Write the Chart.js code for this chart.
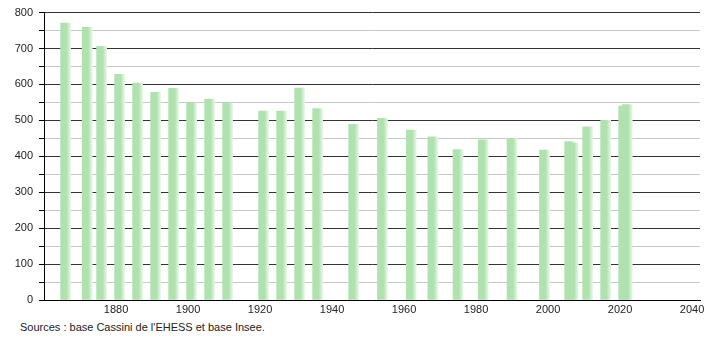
<!DOCTYPE html>
<html>
<head>
<meta charset="utf-8">
<script src="https://cdn.jsdelivr.net/npm/chart.js@4"></script>
<style>
  body { margin: 0; background: #fff; }
  #wrap { position: relative; width: 710px; height: 340px; }
  #box { position: absolute; left: 0; top: 0; width: 710px; height: 318px; }
  #src { position: absolute; left: 20px; top: 321px; font: 11px "Liberation Sans", Arial, sans-serif; color: #222; }
</style>
</head>
<body>
<div id="wrap">
  <div id="box"><canvas id="popChart"></canvas></div>
  <div id="src">Sources : base Cassini de l'EHESS et base Insee.</div>
</div>
<script>
const years = [1866, 1872, 1876, 1881, 1886, 1891, 1896, 1901, 1906, 1911, 1921, 1926, 1931, 1936,
  1946, 1954, 1962, 1968, 1975, 1982, 1990, 1999, 2006, 2007, 2011, 2016, 2021, 2022];
const population = [771, 759, 706, 628, 604, 578, 589, 549, 559, 549, 526, 526, 590, 533,
  489, 506, 473, 454, 419, 446, 450, 417, 441, 437, 482, 500, 540, 544];
const yTicks = [0, 100, 200, 300, 400, 500, 600, 700, 800];
const xTicks = [1880, 1900, 1920, 1940, 1960, 1980, 2000, 2020, 2040];

const green = 'rgb(176,226,176)';

function barFill(ctx) {
    const chart = ctx.chart;
    const xs = chart.scales.x;
    if (!xs || ctx.type !== 'data') return green;
    const cx = xs.getPixelForValue(years[ctx.dataIndex]);
    if (!isFinite(cx)) return green;
    const g = chart.ctx.createLinearGradient(cx - 5, 0, cx + 5, 0);
    g.addColorStop(0, green);
    g.addColorStop(0.6, green);
    g.addColorStop(1, 'rgb(232,246,232)');
    return g;
}

new Chart(document.getElementById('popChart'), {
    type: 'bar',
    data: {
        datasets: [{
            data: years.map((y, i) => ({ x: y, y: population[i] })),
            backgroundColor: barFill,
            borderWidth: 0,
            barThickness: 10
        }]
    },
    options: {
        responsive: true, maintainAspectRatio: false,
        animation: false,
        layout: { padding: { top: 6, right: 10, left: 0, bottom: 0 } },
        plugins: { legend: { display: false }, tooltip: { enabled: false } },
        scales: {
            x: {
                type: 'linear', min: 1860, max: 2042.2, offset: false,
                afterBuildTicks: s => { s.ticks = xTicks.map(v => ({ value: v })); },
                afterFit: s => { s.height = 18; },
                grid: { display: false, drawTicks: false },
                border: { display: true, color: '#000', width: 1 },
                ticks: { color: '#222', font: { family: 'Liberation Sans', size: 11 }, maxRotation: 0, padding: 3,
                    callback: v => String(v) }
            },
            y: {
                min: 0, max: 800,
                afterBuildTicks: s => {
                    const t = [];
                    for (let v = 0; v <= 800; v += 50) t.push({ value: v });
                    s.ticks = t;
                },
                afterFit: s => { s.width = 44; },
                border: { display: true, color: '#000', width: 1 },
                grid: {
                    color: c => (c.tick && c.tick.value % 100 === 0) ? '#333' : '#c8c8c8',
                    tickColor: '#000',
                    tickLength: 5,
                    lineWidth: 1
                },
                ticks: {
                    color: '#222', font: { family: 'Liberation Sans', size: 11 }, padding: 6,
                    autoSkip: false,
                    callback: v => (v % 100 === 0 && yTicks.includes(v)) ? String(v) : ''
                }
            }
        }
    }
});
</script>
</body>
</html>
